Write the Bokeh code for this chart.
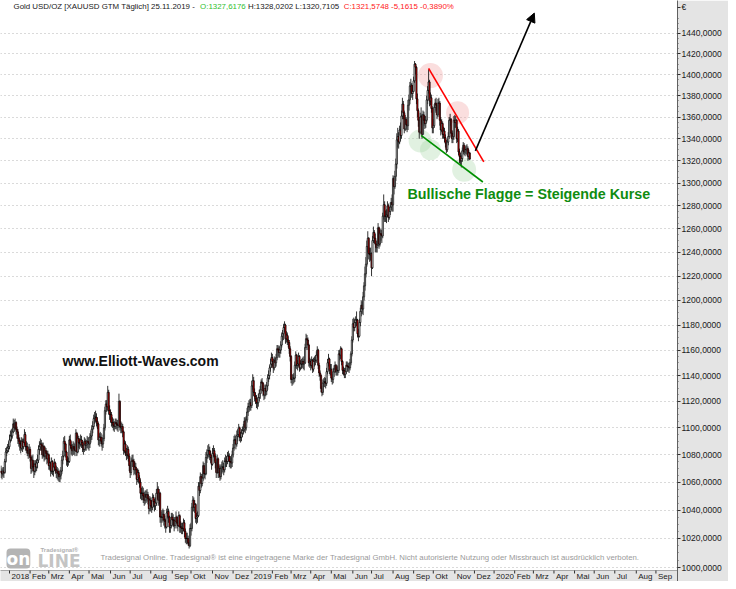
import math
import pandas as pd
from bokeh.plotting import figure
from bokeh.models import (Range1d, FixedTicker, Label, Arrow, NormalHead, ColumnDataSource)
from bokeh.core.properties import value
from bokeh.embed import file_html
from bokeh.resources import INLINE

# ---------------- data ----------------
title_main = "Gold USD/OZ [XAUUSD GTM  Täglich] 25.11.2019 - "
title_open = "O:1327,6176"
title_hl = "H:1328,0202 L:1320,7105"
title_close = "C:1321,5748 -5,1615 -0,3890%"
site_text = "www.Elliott-Waves.com"
flag_text = "Bullische Flagge = Steigende Kurse"
notice_text = ("Tradesignal Online. Tradesignal\u00ae ist eine eingetragene Marke der Tradesignal GmbH. "
               "Nicht autorisierte Nutzung oder Missbrauch ist ausdr\u00fccklich verboten.")
currency = "\u20ac"

first_open = 1068
# (close, high, low) per trading day, month by month (EUR)
dec17 = [(1067,1072,1063),(1066,1070,1062),(1068,1071,1064),(1067,1071,1063),(1075,1077,1066),(1082,1085,1074),(1083,1086,1079),(1085,1088,1081),(1086,1090,1082)]
jan18 = [(1091,1095,1084),(1094,1098,1089),(1094,1099,1090),(1097,1100,1092),(1103,1107,1096),(1100,1106,1097),(1104,1107,1098),(1099,1105,1095),(1097,1101,1092),(1092,1099,1088),(1090,1095,1086),(1088,1093,1083),(1085,1091,1081),(1090,1093,1083),(1086,1092,1082),(1089,1092,1084),(1095,1099,1087),(1086,1097,1083),(1086,1090,1081),(1083,1089,1079),(1081,1086,1077),(1084,1088,1079)]
feb18 = [(1078,1086,1075),(1070,1080,1066),(1076,1079,1067),(1071,1080,1068),(1068,1074,1063),(1073,1076,1065),(1071,1076,1067),(1074,1077,1068),(1076,1080,1070),(1084,1087,1074),(1086,1090,1080),(1088,1092,1083),(1087,1091,1083),(1080,1089,1077),(1086,1089,1078),(1079,1087,1075),(1083,1086,1076),(1081,1085,1077),(1077,1083,1073),(1080,1083,1074)]
mar18 = [(1072,1081,1069),(1074,1078,1069),(1068,1075,1064),(1075,1078,1066),(1068,1076,1065),(1071,1074,1064),(1074,1077,1068),(1069,1075,1066),(1067,1072,1063),(1068,1071,1062),(1066,1070,1061),(1064,1068,1060),(1065,1069,1060),(1068,1071,1062),(1076,1079,1066),(1079,1083,1073),(1090,1093,1078),(1088,1094,1084),(1082,1089,1078),(1076,1083,1072),(1075,1079,1071),(1075,1078,1072)]
apr18 = [(1091,1094,1074),(1087,1095,1084),(1085,1090,1080),(1083,1088,1079),(1086,1090,1080),(1084,1089,1080),(1083,1088,1079),(1096,1099,1082),(1082,1097,1079),(1092,1095,1081),(1089,1094,1085),(1088,1092,1084),(1091,1095,1086),(1089,1094,1085),(1087,1091,1082),(1084,1089,1080),(1090,1093,1082),(1087,1092,1083),(1088,1091,1083),(1090,1094,1085),(1089,1093,1084)]
may18 = [(1088,1093,1083),(1093,1096,1085),(1094,1098,1089),(1099,1102,1091),(1101,1105,1096),(1107,1110,1099),(1108,1112,1103),(1108,1113,1104),(1105,1111,1101),(1103,1108,1099),(1091,1104,1087),(1093,1096,1086),(1093,1097,1088),(1090,1096,1086),(1088,1093,1083),(1092,1095,1085),(1100,1103,1090),(1113,1116,1098),(1118,1121,1110),(1116,1121,1112),(1127,1132,1113),(1113,1129,1110),(1110,1117,1106)]
jun18 = [(1110,1114,1104),(1104,1112,1101),(1104,1108,1100),(1102,1107,1098),(1101,1105,1097),(1104,1107,1099),(1103,1107,1099),(1102,1106,1098),(1102,1106,1097),(1120,1126,1100),(1101,1121,1098),(1100,1105,1096),(1101,1104,1096),(1097,1103,1093),(1083,1098,1080),(1088,1091,1081),(1082,1090,1079),(1080,1085,1076),(1084,1087,1077),(1079,1086,1075),(1072,1081,1068)]
jul18 = [(1067,1074,1063),(1075,1078,1065),(1076,1080,1071),(1075,1080,1071),(1069,1077,1065),(1071,1075,1066),(1069,1074,1065),(1062,1070,1058),(1067,1070,1060),(1063,1069,1059),(1060,1065,1056),(1052,1062,1048),(1052,1056,1047),(1052,1057,1047),(1050,1056,1045),(1047,1053,1043),(1051,1054,1044),(1049,1054,1045),(1051,1055,1046),(1048,1053,1044),(1041,1049,1037),(1047,1050,1039)]
aug18 = [(1043,1049,1039),(1042,1047,1038),(1049,1052,1040),(1046,1051,1042),(1043,1048,1039),(1045,1049,1040),(1052,1055,1043),(1055,1060,1048),(1047,1057,1043),(1052,1055,1044),(1035,1053,1031),(1035,1039,1028),(1035,1040,1031),(1037,1041,1032),(1033,1040,1029),(1032,1036,1027),(1028,1034,1024),(1038,1041,1027),(1039,1043,1034),(1035,1041,1031),(1028,1036,1024),(1029,1033,1024),(1035,1038,1027)]
sep18 = [(1033,1038,1029),(1033,1037,1028),(1029,1035,1025),(1032,1035,1027),(1035,1039,1030),(1031,1036,1027),(1029,1033,1025),(1036,1039,1028),(1028,1037,1024),(1028,1032,1024),(1027,1031,1023),(1027,1031,1023),(1031,1034,1025),(1025,1033,1021),(1020,1027,1017),(1020,1024,1016),(1020,1024,1016),(1017,1022,1015),(1015,1019,1013),(1027,1030,1014)]
oct18 = [(1027,1031,1022),(1042,1045,1025),(1047,1050,1039),(1042,1049,1039),(1044,1047,1038),(1034,1045,1031),(1035,1038,1030),(1036,1039,1031),(1057,1060,1035),(1054,1060,1050),(1064,1067,1052),(1059,1066,1056),(1063,1066,1057),(1072,1075,1061),(1066,1074,1063),(1066,1070,1062),(1078,1082,1065),(1080,1084,1074),(1083,1087,1077),(1083,1088,1078),(1080,1086,1076),(1078,1083,1074),(1073,1080,1069)]
nov18 = [(1081,1085,1072),(1083,1087,1078),(1079,1085,1075),(1074,1081,1070),(1067,1076,1063),(1077,1080,1066),(1067,1078,1063),(1070,1073,1063),(1064,1072,1061),(1070,1073,1062),(1071,1075,1066),(1071,1076,1067),(1069,1074,1065),(1075,1078,1067),(1076,1080,1071),(1075,1079,1071),(1079,1082,1073),(1079,1083,1075),(1075,1081,1071),(1075,1079,1070),(1074,1078,1070),(1080,1083,1071)]
dec18 = [(1085,1088,1078),(1091,1094,1083),(1091,1095,1087),(1088,1094,1084),(1094,1098,1086),(1095,1099,1090),(1100,1103,1093),(1093,1101,1090),(1093,1097,1089),(1096,1099,1090),(1098,1101,1093),(1099,1103,1095),(1105,1108,1097),(1100,1108,1096),(1106,1109,1098),(1112,1115,1104),(1116,1119,1109),(1116,1121,1112),(1119,1122,1113),(1117,1122,1113)]
jan19 = [(1132,1136,1115),(1136,1141,1129),(1127,1139,1124),(1124,1130,1120),(1122,1127,1118),(1119,1125,1115),(1119,1123,1114),(1123,1126,1116),(1126,1129,1120),(1129,1132,1122),(1135,1137,1126),(1134,1138,1130),(1128,1135,1124),(1125,1130,1121),(1130,1133,1122),(1128,1133,1124),(1132,1135,1125),(1138,1141,1129),(1140,1144,1135),(1146,1148,1137),(1149,1153,1143),(1154,1158,1146)]
feb19 = [(1151,1157,1147),(1146,1153,1142),(1152,1155,1144),(1150,1154,1146),(1154,1157,1147),(1161,1164,1152),(1160,1164,1155),(1158,1163,1154),(1160,1163,1154),(1164,1167,1157),(1171,1174,1162),(1173,1176,1167),(1178,1181,1168),(1180,1183,1174),(1169,1181,1165),(1172,1175,1166),(1168,1174,1164),(1166,1171,1162),(1161,1168,1157),(1155,1163,1151)]
mar19 = [(1137,1156,1134),(1137,1141,1132),(1138,1141,1133),(1138,1142,1134),(1148,1151,1135),(1156,1159,1146),(1148,1157,1145),(1149,1152,1144),(1155,1158,1147),(1146,1156,1143),(1149,1152,1144),(1149,1153,1145),(1151,1154,1146),(1149,1155,1145),(1150,1153,1144),(1162,1165,1149),(1169,1173,1160),(1168,1172,1164),(1164,1170,1160),(1150,1165,1147),(1151,1154,1146)]
apr19 = [(1148,1153,1144),(1152,1155,1146),(1145,1153,1142),(1151,1154,1143),(1152,1155,1147),(1152,1156,1148),(1156,1159,1150),(1160,1163,1154),(1148,1161,1145),(1142,1150,1139),(1140,1144,1136),(1130,1141,1127),(1127,1132,1124),(1134,1137,1125),(1135,1138,1131),(1135,1139,1131),(1134,1138,1130),(1143,1146,1132),(1150,1153,1141),(1153,1157,1147),(1144,1154,1141),(1145,1149,1140)]
may19 = [(1138,1149,1135),(1137,1141,1133),(1143,1146,1134),(1145,1148,1139),(1148,1151,1142),(1143,1149,1140),(1144,1147,1140),(1144,1148,1140),(1157,1160,1142),(1156,1160,1152),(1161,1163,1153),(1151,1162,1148),(1144,1152,1141),(1144,1147,1140),(1141,1146,1138),(1143,1146,1138),(1148,1151,1141),(1147,1151,1143),(1147,1150,1143),(1146,1150,1142),(1150,1153,1144),(1157,1159,1148),(1168,1171,1155)]
jun19 = [(1181,1185,1166),(1178,1186,1175),(1182,1185,1175),(1184,1187,1178),(1184,1191,1179),(1173,1185,1170),(1171,1177,1167),(1182,1185,1170),(1191,1194,1179),(1196,1200,1187),(1193,1199,1189),(1203,1207,1188),(1212,1215,1200),(1222,1228,1208),(1230,1236,1219),(1245,1250,1228),(1252,1258,1240),(1239,1253,1234),(1238,1244,1232),(1239,1244,1233)]
jul19 = [(1227,1240,1220),(1250,1254,1226),(1257,1262,1248),(1252,1259,1248),(1247,1256,1240),(1244,1250,1240),(1246,1250,1240),(1261,1265,1245),(1247,1262,1243),(1256,1259,1245),(1255,1260,1250),(1254,1259,1248),(1271,1274,1252),(1281,1290,1268),(1271,1284,1266),(1271,1276,1266),(1272,1277,1265),(1280,1284,1270),(1270,1282,1266),(1275,1279,1268),(1279,1283,1272),(1283,1287,1276),(1281,1290,1275)]
aug19 = [(1304,1307,1275),(1297,1306,1290),(1306,1311,1295),(1317,1322,1302),(1339,1345,1313),(1342,1350,1332),(1337,1346,1331),(1348,1352,1335),(1343,1355,1338),(1361,1366,1340),(1372,1378,1358),(1364,1375,1358),(1349,1366,1345),(1358,1362,1347),(1353,1360,1348),(1352,1357,1346),(1371,1376,1348),(1376,1381,1366),(1389,1393,1372),(1390,1396,1383),(1382,1392,1378),(1384,1390,1376)]
sep19 = [(1394,1398,1384),(1410,1413,1392),(1407,1411,1400),(1377,1408,1372),(1366,1382,1360),(1357,1368,1351),(1346,1360,1340),(1360,1364,1344),(1361,1369,1353),(1344,1363,1340),(1362,1366,1345),(1357,1365,1352),(1354,1361,1349),(1357,1361,1350),(1376,1380,1355),(1385,1389,1372),(1393,1405,1382),(1375,1395,1370),(1378,1383,1371),(1368,1381,1364),(1350,1370,1345)]
oct19 = [(1352,1358,1345),(1369,1372,1350),(1373,1377,1364),(1371,1378,1366),(1362,1372,1358),(1373,1377,1360),(1373,1378,1367),(1357,1375,1352),(1348,1360,1343),(1354,1358,1346),(1344,1356,1340),(1347,1351,1340),(1341,1350,1337),(1336,1344,1332),(1330,1339,1327),(1337,1340,1328),(1342,1346,1334),(1357,1360,1340),(1358,1363,1352),(1345,1359,1341),(1340,1348,1336),(1342,1347,1336),(1357,1361,1339)]
nov19 = [(1355,1362,1350),(1357,1361,1350),(1340,1358,1336),(1347,1351,1337),(1328,1349,1325),(1324,1331,1318),(1320,1327,1316),(1322,1325,1314),(1329,1332,1319),(1334,1337,1326),(1328,1336,1325),(1330,1333,1324),(1330,1334,1326),(1331,1335,1325),(1324,1333,1320),(1327,1330,1321),(1321.5748,1328.0202,1320.7105)]

month_data = [("2017-12", dec17), ("2018-01", jan18), ("2018-02", feb18), ("2018-03", mar18),
              ("2018-04", apr18), ("2018-05", may18), ("2018-06", jun18), ("2018-07", jul18),
              ("2018-08", aug18), ("2018-09", sep18), ("2018-10", oct18), ("2018-11", nov18),
              ("2018-12", dec18), ("2019-01", jan19), ("2019-02", feb19), ("2019-03", mar19),
              ("2019-04", apr19), ("2019-05", may19), ("2019-06", jun19), ("2019-07", jul19),
              ("2019-08", aug19), ("2019-09", sep19), ("2019-10", oct19), ("2019-11", nov19)]

month_names = ["Jan", "Feb", "Mrz", "Apr", "Mai", "Jun", "Jul", "Aug", "Sep", "Okt", "Nov", "Dez"]
y_ticks = list(range(1000, 1441, 20))
y_minor = [v for v in range(1000, 1461, 5) if v % 20]
currency_level = 1466   # where the currency sign sits on the price scale

# drawn annotations (date, price)
red_line_dates = ["2019-09-24", "2019-12-16"]
red_line_prices = [1406, 1319]
green_line_dates = ["2019-09-12", "2019-12-13"]
green_line_prices = [1343, 1301]
arrow_dates = ["2019-12-03", "2020-03-03"]
arrow_prices = [1329, 1460]
pink_dates = ["2019-09-26", "2019-11-06"]
pink_prices = [1399, 1364]
pink_sizes = [25, 23]
mint_dates = ["2019-09-11", "2019-09-26", "2019-11-15"]
mint_prices = [1338, 1330, 1312]
mint_sizes = [23, 21, 24]

# ---------------- layout helpers ----------------
K = 0.9355          # px per trading day
X0 = 9.0            # canvas px of 2018-01-02
PX_PER_LN = 1465.0  # log scale: px per natural-log unit
Y1000 = 567.0       # canvas px of 1000
FRAME_W, FRAME_H = 677, 581
BAND_TOP = 570      # top of the date band


def X(px):
    return (px - X0) / K


def Y(py):
    return 1000.0 * math.exp((Y1000 - py) / PX_PER_LN)


days = [d for d in pd.bdate_range("2017-12-18", "2020-12-31")
        if not ((d.month == 12 and d.day == 25) or (d.month == 1 and d.day == 1))]
keys = [d.strftime("%Y-%m-%d") for d in days]
idx0 = keys.index("2018-01-02")
pos = {k: i - idx0 for i, k in enumerate(keys)}

xs, o, h, l, c = [], [], [], [], []
prev = first_open
for key, rows in month_data:
    mkeys = [k for k in keys if k.startswith(key)]
    for k, (cc, hh, ll) in zip(mkeys, rows):
        op = prev
        xs.append(pos[k]); o.append(op); c.append(cc)
        h.append(max(hh, op, cc)); l.append(min(ll, op, cc))
        prev = cc

src = ColumnDataSource(dict(
    x=xs, high=h, low=l,
    top=[max(a, b) for a, b in zip(o, c)],
    bottom=[min(a, b) for a, b in zip(o, c)],
    fill=["#ffffff" if b >= a else "#e00000" for a, b in zip(o, c)],
))

# month ticks: tick mark at first trading day, label just to its right
starts = {}
for k in keys:
    ym = k[:7]
    if ym not in starts:
        starts[ym] = pos[k]
tick_x, lab_x, lab_t = [], [], []
for ym, i in starts.items():
    yr, mo = int(ym[:4]), int(ym[5:])
    if (yr, mo) < (2018, 1) or (yr, mo) > (2020, 9):
        continue
    tick_x.append(i)
    lab_x.append(i + 2.0 / K)
    lab_t.append(str(yr) if mo == 1 else month_names[mo - 1])

# ---------------- figure ----------------
p = figure(width=728, height=581, output_backend="svg", toolbar_location=None, title=None,
           x_range=Range1d(X(0), X(FRAME_W)), y_range=Range1d(Y(FRAME_H), Y(0)),
           y_axis_type="log", y_axis_location="right", x_axis_location=None,
           min_border_left=0, min_border_top=0, min_border_right=51, min_border_bottom=0,
           background_fill_color="white", border_fill_color="#e4e4e4",
           outline_line_color=None)

ay = p.yaxis[0]
ay.ticker = FixedTicker(ticks=y_ticks + [currency_level], minor_ticks=y_minor)
y_over = {v: "%d,0000" % v for v in y_ticks}
y_over[currency_level] = currency
ay.major_label_overrides = y_over
ay.major_tick_out = 3
ay.major_tick_in = 0
ay.major_tick_line_color = "#303030"
ay.minor_tick_out = 1
ay.minor_tick_in = 0
ay.minor_tick_line_color = "#606060"
ay.major_label_standoff = 1
ay.axis_label_standoff = 0
ay.major_label_text_font = "Liberation Sans"
ay.major_label_text_font_size = "8.5px"
ay.major_label_text_color = "#1a1a1a"
ay.axis_line_color = "#606060"

p.xgrid.visible = False
p.ygrid.ticker = FixedTicker(ticks=y_ticks)
p.ygrid.grid_line_color = "#b4b4b4"
p.ygrid.grid_line_dash = "1 3"

# date band along the bottom
p.quad(left=[X(-5)], right=[X(FRAME_W + 5)], bottom=[Y(FRAME_H + 10)], top=[Y(BAND_TOP)],
       fill_color="#e4e4e4", line_color=None)
p.segment(x0=[X(-5)], y0=[Y(BAND_TOP)], x1=[X(FRAME_W + 5)], y1=[Y(BAND_TOP)],
          line_color="#a8a8a8", line_width=1)
p.segment(x0=tick_x, y0=[Y(BAND_TOP)] * len(tick_x), x1=tick_x, y1=[Y(BAND_TOP + 3)] * len(tick_x),
          line_color="#303030", line_width=1)
p.text(x=lab_x, y=[Y(BAND_TOP + 5.5)] * len(lab_x), text=lab_t,
       text_font=value("Liberation Sans"), text_font_size="8px", text_color="#1a1a1a",
       text_align="left", text_baseline="middle")

# highlight circles
p.scatter([pos[d] for d in pink_dates], pink_prices, size=pink_sizes, marker="circle",
          fill_color="#f2a0a0", fill_alpha=0.35, line_color=None)
p.scatter([pos[d] for d in mint_dates], mint_prices, size=mint_sizes, marker="circle",
          fill_color="#a8d8a8", fill_alpha=0.35, line_color=None)

# candles
p.segment(x0="x", y0="low", x1="x", y1="high", source=src, line_color="black", line_width=0.8)
p.vbar(x="x", width=1.3, top="top", bottom="bottom", source=src,
       fill_color="fill", line_color="black", line_width=0.7)

# flag lines and arrow
p.line([pos[d] for d in red_line_dates], red_line_prices, line_color="#ff0000", line_width=1.6)
p.line([pos[d] for d in green_line_dates], green_line_prices, line_color="#009000", line_width=1.6)
p.add_layout(Arrow(end=NormalHead(size=9, fill_color="black", line_color="black"),
                   x_start=pos[arrow_dates[0]], y_start=arrow_prices[0],
                   x_end=pos[arrow_dates[1]], y_end=arrow_prices[1],
                   line_color="black", line_width=1.6))


# texts
def lab(px, py, text, size, color, bold=False, font="Liberation Sans"):
    p.add_layout(Label(x=X(px), y=Y(py), text=text, text_font=font, text_font_size=size,
                       text_color=color, text_font_style="bold" if bold else "normal",
                       text_align="left", text_baseline="middle"))


fs = 7.9
lab(13, 6, title_main, "%.1fpx" % fs, "#202020")
lab(13 + 23.62 * fs, 6, title_open, "%.1fpx" % fs, "#30c030")
lab(13 + 29.68 * fs, 6, title_hl, "%.1fpx" % fs, "#202020")
lab(13 + 41.80 * fs, 6, title_close, "%.1fpx" % fs, "#ff2020")

lab(407, 193, flag_text, "14.3px", "#108c10", bold=True)
lab(62, 360, site_text, "14px", "#111111", bold=True)
lab(100, 557, notice_text, "7.8px", "#9a9a9a")

# logo
p.add_layout(Label(x=X(6), y=Y(558), text="on", text_font="DejaVu Sans", text_font_size="17px",
                   text_font_style="bold", text_color="white", text_align="left",
                   text_baseline="middle", background_fill_color="#b4b4b4", border_radius=4))
lab(37, 560, "LINE", "17px", "#c4c4c4", bold=True, font="DejaVu Sans")
lab(40, 549, "Tradesignal\u00ae", "6px", "#b0b0b0", bold=True)

open("out.html", "w").write(file_html(p, INLINE))
